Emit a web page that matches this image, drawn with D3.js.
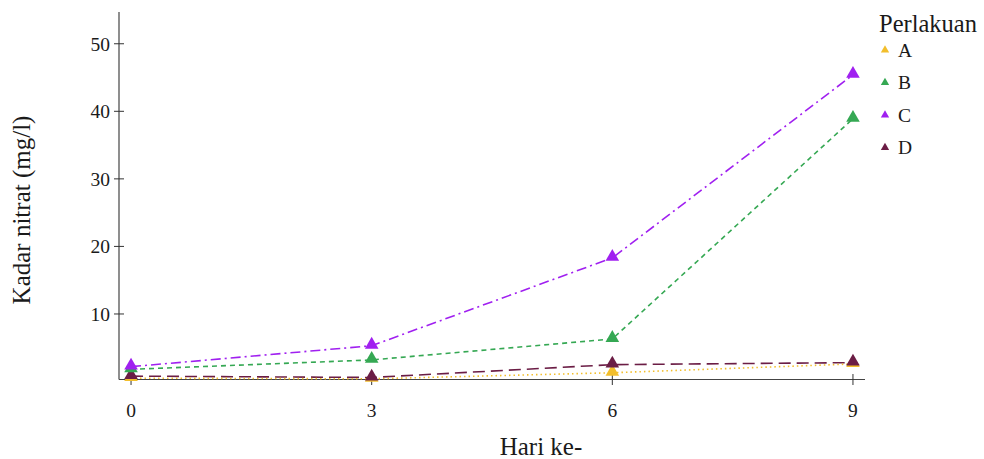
<!DOCTYPE html>
<html><head><meta charset="utf-8">
<script src="https://cdn.jsdelivr.net/npm/d3@7"></script>
<style>body{margin:0;background:#fff}svg{display:block;font-family:"Liberation Serif","Times New Roman",serif}</style>
</head><body><svg id="c" width="984" height="459"></svg>
<script>
const days = [0, 3, 6, 9];
const seriesNames = ["A", "B", "C", "D"];
const valuesA = [0.5, 0.4, 1.3, 2.6];
const valuesB = [1.8, 3.2, 6.3, 38.9];
const valuesC = [2.2, 5.3, 18.3, 45.4];
const valuesD = [0.8, 0.6, 2.5, 2.8];
const yTicks = [10, 20, 30, 40, 50];
const xTicks = [0, 3, 6, 9];
const colors = {A: "#F2BE2C", B: "#35A853", C: "#A020F0", D: "#6B1D45"};
const dashes = {A: "1.5,3", B: "5,4", C: "10,4,2,4", D: "12,6"};
const data = {A: valuesA, B: valuesB, C: valuesC, D: valuesD};

const svg = d3.select("#c");
const x = d3.scaleLinear().domain([-0.15, 9.15]).range([119, 865]);
const y = d3.scaleLinear().domain([0.3, 54.7]).range([379.5, 12]);

svg.append("line").attr("x1", 119).attr("x2", 119).attr("y1", y.range()[1]).attr("y2", y.range()[0]).attr("stroke", "#444").attr("stroke-width", 1.2);
svg.append("line").attr("x1", 119).attr("x2", 865).attr("y1", y.range()[0]).attr("y2", y.range()[0]).attr("stroke", "#444").attr("stroke-width", 1.2);

const gy = svg.append("g");
yTicks.forEach(t => {
  gy.append("line").attr("x1", 114).attr("x2", 124).attr("y1", y(t)).attr("y2", y(t)).attr("stroke", "#333").attr("stroke-width", 1);
  gy.append("text").attr("x", 110).attr("y", y(t)).attr("dy", "0.35em").attr("text-anchor", "end").attr("font-size", 19.5).attr("fill", "#1a1a1a").text(t);
});
const gx = svg.append("g");
xTicks.forEach(t => {
  gx.append("line").attr("x1", x(t)).attr("x2", x(t)).attr("y1", 374).attr("y2", 385).attr("stroke", "#333").attr("stroke-width", 1);
  gx.append("text").attr("x", x(t)).attr("y", 417).attr("text-anchor", "middle").attr("font-size", 19.5).attr("fill", "#1a1a1a").text(t);
});

svg.append("text").attr("x", 541).attr("y", 455).attr("text-anchor", "middle").attr("font-size", 25).attr("fill", "#1a1a1a").text("Hari ke-");
svg.append("text").attr("transform", "translate(30,210) rotate(-90)").attr("text-anchor", "middle").attr("font-size", 25).attr("fill", "#1a1a1a").text("Kadar nitrat (mg/l)");

const line = d3.line().x((d, i) => x(days[i])).y(d => y(d));
const tri = d3.symbol().type(d3.symbolTriangle).size(80);
["D", "A", "B", "C"].forEach(s => {
  svg.append("path").datum(data[s]).attr("d", line).attr("fill", "none")
    .attr("stroke", colors[s]).attr("stroke-width", 1.6).attr("stroke-dasharray", dashes[s]);
});
["A", "D", "B", "C"].forEach(s => {
  svg.selectAll(null).data(data[s]).enter().append("path")
    .attr("d", tri).attr("transform", (d, i) => `translate(${x(days[i])},${y(d) - 1})`)
    .attr("fill", colors[s]);
});

const lg = svg.append("g");
lg.append("text").attr("x", 879).attr("y", 32).attr("font-size", 24.5).attr("fill", "#1a1a1a").text("Perlakuan");
seriesNames.forEach((s, i) => {
  const cy = 50 + i * 32.5;
  lg.append("path").attr("d", d3.symbol().type(d3.symbolTriangle).size(30)).attr("transform", `translate(885,${cy})`).attr("fill", colors[s]);
  lg.append("text").attr("x", 898).attr("y", cy).attr("dy", "0.35em").attr("font-size", 19.5).attr("fill", "#1a1a1a").text(s);
});
</script></body></html>
